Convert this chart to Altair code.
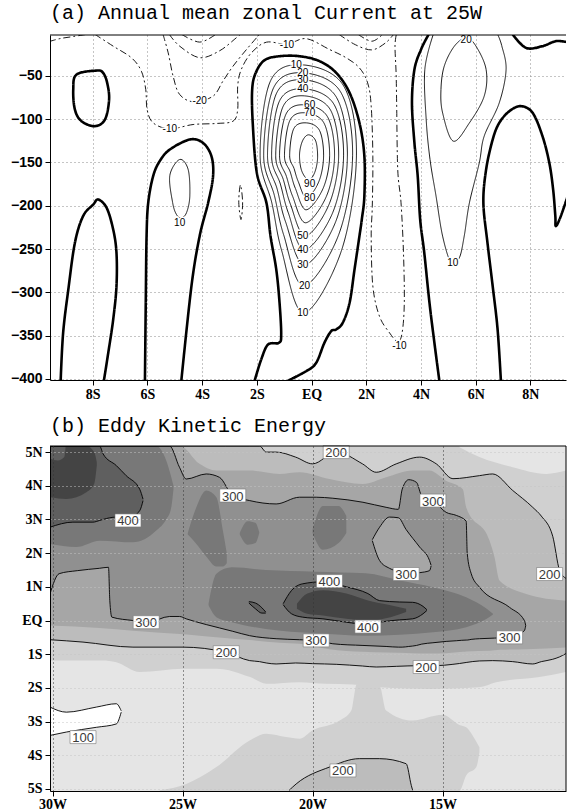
import altair as alt
import pandas as pd

# ============================================================ panel (a)
A_TITLE = "(a) Annual mean zonal Current at 25W"
A_LAT_TICKS = [-8, -6, -4, -2, 0, 2, 4, 6, 8]
A_DEPTH_TICKS = [-50, -100, -150, -200, -250, -300, -350, -400]
A_LAT_DOMAIN = [-9.56, 9.30]
A_DEPTH_DOMAIN = [-401.3, -2.8]

# zero contour (thick)
A_ZERO_LOOP_8S = [(-7.86, -43.9), (-8.59, -48.5), (-8.71, -65.8), (-8.65, -88.9), (-8.41, -102.3),
                  (-7.92, -108.1), (-7.55, -100.4), (-7.40, -77.3), (-7.47, -58.1), (-7.62, -46.5)]
A_ZERO_ARCH_8S = [(-9.17, -402), (-9.08, -346.8), (-8.89, -296.7), (-8.65, -242.8), (-8.35, -212),
                  (-7.98, -198.6), (-7.80, -192.8), (-7.49, -202.4), (-7.25, -227.5), (-7.13, -254.4),
                  (-7.13, -292.8), (-7.25, -331.4), (-7.43, -369.8), (-7.59, -402)]
A_ZERO_ARCH_4S = [(-6.09, -402), (-6.06, -312), (-6.03, -235), (-5.97, -196.6), (-5.79, -165.8),
                  (-5.55, -148.5), (-5.18, -135.1), (-4.45, -123.5), (-3.97, -127.4), (-3.66, -142.7),
                  (-3.60, -165.8), (-3.78, -196.6), (-4.09, -235), (-4.39, -292.8), (-4.76, -402)]
A_ZERO_CORE = [(-2.08, -402), (-1.84, -377.6), (-1.59, -360.3), (-1.19, -358.3), (-1.11, -348.7),
               (-1.17, -312.1), (-1.29, -273.7), (-1.50, -235.1), (-1.65, -196.6), (-2.00, -162),
               (-2.15, -104.3), (-2.17, -65.8), (-2.04, -46.5), (-1.72, -31.9), (-1.17, -27.3),
               (-0.44, -27.3), (0.29, -33), (0.90, -46.5), (1.39, -69.6), (1.75, -104.3),
               (1.93, -142.7), (1.93, -188.9), (1.84, -215), (1.75, -235.1), (1.57, -273.7),
               (1.39, -312.1), (1.14, -335.2), (0.90, -342.9), (0.72, -344.8), (0.47, -358.3),
               (0.17, -381.4), (-0.19, -391), (-0.86, -402)]
A_ZERO_4N = [(4.28, -2), (4.00, -19.6), (3.76, -42.7), (3.67, -81.2), (3.76, -127.4), (3.88, -165.8),
             (3.97, -216), (4.12, -254.4), (4.31, -312.1), (4.49, -358.3), (4.67, -402)]
A_ZERO_ARCH_7N = [(6.92, -402), (6.80, -343), (6.62, -292.8), (6.43, -242.8), (6.28, -196.6),
                  (6.38, -158.2), (6.62, -123.6), (6.86, -104.3), (7.23, -90.8), (7.65, -85),
                  (8.08, -92.7), (8.44, -119.6), (8.69, -150.5), (8.83, -181.3), (8.91, -212),
                  (8.93, -223.6), (9.11, -212), (9.35, -190)]
A_ZERO_TOP_8N = [(7.35, -2), (7.84, -17.7), (8.44, -15.7), (8.93, -9.9), (9.35, -11.1)]

# positive contours (thin)
A_POS10 = [(-0.33, -37.3), (1.17, -61.5), (1.64, -142.4), (1.09, -252.1), (-0.29, -323.7),
           (-1.09, -252.1), (-1.45, -197), (-1.88, -142.4), (-1.50, -55.8)]
A_POS20 = [(-0.31, -46.5), (1.06, -68.5), (1.50, -142.4), (0.99, -233.6), (-0.29, -292.5),
           (-1.02, -233.6), (-1.36, -188), (-1.75, -142.4), (-1.39, -63.9)]
A_POS30 = [(-0.29, -54.6), (0.91, -74.8), (1.31, -142.4), (0.88, -218.6), (-0.26, -268.2),
           (-0.95, -218.6), (-1.26, -180.5), (-1.61, -142.4), (-1.28, -70.1)]
A_POS40 = [(-0.27, -65.0), (0.82, -82.9), (1.17, -142.4), (0.77, -208.2), (-0.26, -250.9),
           (-0.85, -208.2), (-1.14, -175), (-1.46, -142.4), (-1.17, -78.9)]
A_POS50 = [(-0.26, -73.1), (0.69, -89.3), (0.99, -142.4), (0.64, -198.4), (-0.23, -234.8),
           (-0.77, -198.4), (-1.03, -170), (-1.31, -142.4), (-1.04, -85.3)]
A_POS60 = [(-0.24, -83.5), (0.58, -97.1), (0.84, -142.4), (0.54, -189.3), (-0.22, -219.7),
           (-0.69, -189.3), (-0.92, -166), (-1.17, -142.4), (-0.93, -93.9)]
A_POS70 = [(-0.22, -92.7), (0.45, -104.3), (0.66, -142.4), (0.42, -180.1), (-0.20, -204.7),
           (-0.59, -180.1), (-0.78, -161), (-0.99, -142.4), (-0.79, -101.4)]
A_POS80 = [(-0.19, -104.3), (0.29, -113.0), (0.44, -142.4), (0.27, -171.8), (-0.18, -190.9),
           (-0.49, -171.8), (-0.64, -157), (-0.80, -142.4), (-0.65, -111.0)]
A_POS90 = [(-0.11, -118.1), (0.15, -125.1), (0.22, -144.7), (0.11, -162.0), (-0.11, -170.1),
           (-0.36, -159.7), (-0.44, -141.2), (-0.33, -125.1)]
A_POS10_4S = [(-4.82, -146.6), (-4.51, -158.2), (-4.45, -189), (-4.57, -208), (-4.76, -214),
              (-4.94, -210), (-5.08, -196), (-5.18, -165)]
A_POS10_5N = [(4.45, -2), (4.14, -42.7), (4.19, -100.4), (4.33, -146.6), (4.55, -188.9), (4.79, -235.1),
              (5.10, -265.9), (5.40, -260.2), (5.58, -235.1), (5.77, -196.6), (6.13, -150.5),
              (6.31, -119.6), (6.86, -81.2), (7.11, -42.7), (6.95, -15), (6.80, -2)]
A_POS20_5N = [(5.65, -6.1), (6.01, -15.7), (6.38, -42.7), (6.31, -73.4), (5.77, -104.3),
              (5.18, -125.4), (4.79, -92.7), (4.73, -65.8), (4.85, -38.8), (5.22, -15.7)]

# negative contours (dashed)
A_NEG10_CORNER = [(-9.6, -10.5), (-9.2, -7), (-8.7, -4.5), (-8.2, -2)]
A_NEG10_MAIN = [(-7.92, -2), (-7.25, -15.7), (-6.58, -29.2), (-6.22, -44.6), (-6.06, -65.8),
                (-6.01, -88.9), (-5.79, -104.3), (-5.18, -111.2), (-4.33, -106.2), (-3.48, -105),
                (-2.87, -102.3), (-2.70, -88.9), (-2.70, -61.9), (-2.57, -42.7), (-2.20, -23.4),
                (-1.65, -11.1), (-0.90, -13.5), (-0.20, -7), (0.66, -19.6), (1.27, -29.2),
                (1.75, -40.8), (2.05, -58.1), (2.18, -85), (2.24, -142.7), (2.22, -200.5),
                (2.18, -235.1), (2.24, -292.8), (2.48, -327.5), (2.85, -346.8), (3.15, -357),
                (3.31, -346.8), (3.39, -312.1), (3.36, -254.4), (3.27, -196.6), (3.15, -158.2),
                (3.11, -81.2), (3.09, -46.5), (3.05, -15.7), (3.10, -2)]
A_NEG20_LEFT = [(-5.43, -2), (-5.24, -23.4), (-5.06, -50.4), (-4.82, -71.6), (-4.30, -80),
                (-3.60, -73.4), (-3.24, -56.1), (-2.87, -38.8), (-2.38, -19.6), (-1.90, -2)]
A_NEG30_LEFT = [(-5.2, -2), (-4.82, -15.7), (-4.09, -29), (-3.36, -21), (-2.75, -6), (-2.6, -2)]
A_NEG40_LEFT = [(-4.75, -2), (-4.09, -11), (-3.5, -2)]
A_NEG20_RIGHT = [(1.0, -2), (1.6, -14), (2.2, -20), (2.7, -12), (3.0, -2)]
A_NEG30_RIGHT = [(1.7, -2), (2.2, -10), (2.6, -2)]
A_NEG10_SMALL = [(-2.60, -176), (-2.52, -196), (-2.58, -216), (-2.66, -196)]

A_LINES = [
    ("z_loop8s", "zero", True, A_ZERO_LOOP_8S),
    ("z_arch8s", "zero", False, A_ZERO_ARCH_8S),
    ("z_arch4s", "zero", False, A_ZERO_ARCH_4S),
    ("z_core", "zero", False, A_ZERO_CORE),
    ("z_4n", "zero", False, A_ZERO_4N),
    ("z_arch7n", "zero", False, A_ZERO_ARCH_7N),
    ("z_top8n", "zero", False, A_ZERO_TOP_8N),
    ("p10", "pos", True, A_POS10), ("p20", "pos", True, A_POS20), ("p30", "pos", True, A_POS30),
    ("p40", "pos", True, A_POS40), ("p50", "pos", True, A_POS50), ("p60", "pos", True, A_POS60),
    ("p70", "pos", True, A_POS70), ("p80", "pos", True, A_POS80), ("p90", "pos", True, A_POS90),
    ("p10_4s", "pos", True, A_POS10_4S),
    ("p10_5n", "pos", False, A_POS10_5N),
    ("p20_5n", "pos", True, A_POS20_5N),
    ("n10_corner", "neg", False, A_NEG10_CORNER),
    ("n10_main", "neg", False, A_NEG10_MAIN),
    ("n20_left", "neg", False, A_NEG20_LEFT),
    ("n30_left", "neg", False, A_NEG30_LEFT),
    ("n40_left", "neg", False, A_NEG40_LEFT),
    ("n20_right", "neg", False, A_NEG20_RIGHT),
    ("n30_right", "neg", False, A_NEG30_RIGHT),
    ("n10_small", "neg", True, A_NEG10_SMALL),
]

A_LABELS = [("-10", -5.18, -111.2), ("-20", -4.09, -79.2), ("-10", -0.90, -14.0), ("10", -4.82, -219.7),
            ("20", 5.65, -8.0), ("10", 5.16, -266.0), ("-10", 3.21, -362.0),
            ("10", -0.56, -37.6), ("20", -0.32, -46.5), ("30", -0.32, -55.0), ("40", -0.32, -64.7),
            ("60", -0.07, -83.1), ("70", -0.07, -92.7), ("90", -0.07, -174.7), ("80", -0.07, -190.9),
            ("50", -0.32, -235.1), ("40", -0.32, -250.6), ("30", -0.32, -267.9), ("20", -0.26, -292.8),
            ("10", -0.32, -323.7)]

# ============================================================ panel (b)
B_TITLE = "(b) Eddy Kinetic Energy"
B_LON_TICKS = [-30, -25, -20, -15]
B_LAT_TICKS = [-5, -4, -3, -2, -1, 0, 1, 2, 3, 4, 5]
B_LON_DOMAIN = [-30.1, -10.25]
B_LAT_DOMAIN = [-5.06, 5.18]
B_LEVELS = ["lt100", "100", "150", "200", "250", "300", "350", "400", "450"]
B_GREYS = ["#ffffff", "#e5e5e5", "#d0d0d0", "#bcbcbc", "#a6a6a6", "#909090", "#787878", "#5f5f5f", "#444444"]

# (lon, lower lat, upper lat) of each shaded region
B_BASE = [(-30.1, -5.06, 5.18), (-10.25, -5.06, 5.18)]
B_WHITE = [(-30.1, -3.41, -2.57), (-29.47, -3.31, -2.72), (-28.32, -3.17, -2.57), (-27.55, -3.07, -2.47),
           (-27.36, -2.72, -2.68)]
B_150_NORTH = [(-30.1, -1.19, 5.18), (-28.1, -1.19, 5.18), (-27.55, -1.24, 5.18), (-26.65, -1.53, 5.18),
               (-24.98, -1.43, 5.18), (-23.7, -1.43, 5.18), (-22.4, -1.68, 5.18), (-21.77, -1.88, 5.18),
               (-20.5, -1.83, 5.18), (-19.5, -1.88, 5.18), (-18.45, -1.9, 5.18), (-17.42, -1.98, 5.18),
               (-15.5, -2.03, 5.18), (-13.6, -1.98, 5.18), (-12.94, -1.83, 5.18), (-11.27, -1.68, 5.18),
               (-10.25, -1.53, 5.18)]
B_150_SOUTH = [(-25.88, -5.06, -5.04), (-24.86, -5.06, -4.85), (-23.7, -5.06, -4.35), (-22.42, -5.06, -3.56),
               (-21.78, -5.06, -3.36), (-21.01, -5.06, -3.46), (-20.5, -5.06, -3.51), (-19.99, -5.06, -3.26),
               (-18.96, -5.06, -2.97), (-18.51, -5.06, -2.67), (-18.3, -5.06, -1.9), (-17.42, -5.06, -1.95),
               (-17.17, -5.06, -2.67), (-16.15, -5.06, -2.97), (-15.0, -5.06, -2.8), (-14.35, -5.06, -3.1),
               (-14.09, -4.6, -3.17), (-13.7, -4.35, -3.6), (-13.58, -3.9, -3.76)]
B_NE_LOW = [(-14.35, 5.14, 5.18), (-13.58, 4.85, 5.18), (-12.3, 4.55, 5.18), (-11.01, 4.35, 5.18),
            (-10.25, 4.45, 5.18)]
B_200_MAIN = [(-30.1, -0.57, 5.18), (-28.83, -0.64, 5.18), (-26.91, -0.79, 5.18), (-24.98, -0.79, 5.18),
              (-23.35, -0.94, 5.18), (-22.42, -1.19, 5.18), (-22.04, -1.22, 5.18), (-21.78, -1.26, 5.0),
              (-21.4, -1.29, 5.0), (-20.65, -1.26, 4.85), (-20.0, -1.28, 4.65), (-19.09, -1.3, 5.0),
              (-18.08, -1.35, 4.65), (-17.55, -1.38, 4.40), (-16.78, -1.36, 4.65), (-15.88, -1.34, 4.85),
              (-15.24, -1.34, 4.65), (-14.6, -1.3, 4.21), (-13.58, -1.2, 4.30), (-13.07, -1.19, 4.35),
              (-12.3, -1.22, 3.86), (-11.53, -1.29, 3.36), (-11.2, -1.22, 3.1), (-10.76, -1.15, 2.5),
              (-10.5, -1.08, 1.5), (-10.25, -0.98, 1.25)]
B_200_SOUTH = [(-20.9, -5.06, -5.04), (-20.63, -5.06, -4.85), (-19.35, -5.06, -4.35), (-18.2, -5.06, -4.1),
               (-17.42, -5.06, -4.1), (-16.4, -5.06, -4.25), (-16.2, -5.06, -4.9), (-16.15, -5.06, -5.04)]
B_250_MAIN = [(-30.1, -0.15, 5.18), (-28.2, -0.22, 5.18), (-26.91, -0.3, 5.18), (-25.1, -0.4, 5.18),
              (-24.35, -0.45, 4.65), (-23.7, -0.5, 4.45), (-22.42, -0.58, 4.45), (-21.27, -0.66, 4.35),
              (-20.5, -0.69, 4.4), (-19.35, -0.85, 4.2), (-18.07, -0.93, 4.05), (-17.17, -0.95, 4.25),
              (-16.15, -0.97, 4.45), (-15.5, -0.98, 4.45), (-14.87, -0.97, 4.15), (-14.22, -0.93, 3.9),
              (-14.09, -0.92, 3.36), (-13.19, -0.9, 2.37), (-13.0, -0.88, 1.88), (-12.81, -0.87, 1.19),
              (-11.78, -0.85, 0.79), (-10.25, -0.8, 0.59)]
B_300_MAIN = [(-30.1, 0.79, 5.18), (-29.75, 1.39, 5.18), (-29.05, 1.48, 5.18), (-28.2, 1.55, 5.18),
              (-27.85, 1.58, 5.18), (-27.8, 0.6, 5.18), (-27.72, 0.1, 5.18), (-26.9, 0.0, 5.18),
              (-26.33, -0.05, 5.18), (-25.5, 0.12, 5.18), (-25.12, 0.12, 4.55), (-24.86, 0.05, 4.2),
              (-24.09, -0.12, 4.35), (-23.58, -0.22, 4.25), (-23.07, -0.32, 3.71), (-22.42, -0.45, 3.56),
              (-21.4, -0.54, 3.46), (-20.5, -0.57, 3.66), (-19.86, -0.6, 3.66), (-19.22, -0.69, 3.63),
              (-18.06, -0.74, 3.51), (-17.17, -0.77, 3.36), (-16.7, -0.79, 3.3), (-16.55, -0.79, 3.9),
              (-16.3, -0.77, 4.18), (-16.0, -0.74, 4.1), (-15.8, -0.7, 3.7), (-15.37, -0.66, 3.56),
              (-14.86, -0.62, 3.21), (-14.47, -0.6, 3.12), (-14.09, -0.58, 2.95), (-14.05, -0.58, 2.0),
              (-13.9, -0.56, 1.4), (-13.58, -0.54, 0.99), (-12.42, -0.5, 0.39), (-11.85, -0.3, 0.0),
              (-11.8, -0.15, -0.15)]
B_300_HOLE = [(-17.7, 2.37, 2.4), (-17.42, 1.78, 2.77), (-17.04, 1.55, 3.07), (-16.7, 1.45, 3.05),
              (-16.4, 1.38, 2.7), (-15.88, 1.42, 2.18), (-15.5, 1.48, 1.78), (-15.44, 1.62, 1.64)]
B_350_EQ = [(-24.0, 0.45, 0.5), (-23.7, 0.1, 1.39), (-23.1, -0.05, 1.58), (-21.8, -0.25, 1.5),
            (-19.87, -0.38, 1.45), (-17.95, -0.45, 1.4), (-16.65, -0.42, 1.19), (-15.37, -0.35, 0.99),
            (-14.09, -0.2, 0.69), (-13.3, 0.05, 0.35), (-13.06, 0.18, 0.2)]
B_350_NW = [(-30.1, 2.27, 5.18), (-29.09, 2.18, 5.18), (-28.19, 2.37, 5.18), (-26.91, 2.32, 5.18),
            (-26.01, 2.67, 5.18), (-25.63, 3.0, 4.75), (-25.45, 3.3, 4.3), (-25.35, 3.9, 4.0)]
B_350_TONGUE = [(-24.8, 2.55, 2.6), (-24.5, 2.3, 3.3), (-24.09, 1.9, 3.86), (-23.7, 1.6, 3.66),
                (-23.45, 1.6, 2.67), (-23.3, 1.7, 2.0)]
B_350_BLOB = [(-22.8, 2.55, 2.6), (-22.5, 2.25, 2.95), (-22.2, 2.3, 2.9), (-22.05, 2.6, 2.62)]
B_350_N2 = [(-20.0, 2.6, 2.7), (-19.6, 2.1, 3.4), (-19.0, 2.3, 3.4), (-18.7, 2.6, 3.1)]
B_400_NW = [(-30.1, 2.77, 5.18), (-29.22, 2.92, 5.18), (-28.45, 2.92, 5.18), (-28.19, 2.97, 5.18),
            (-28.06, 3.0, 4.95), (-27.55, 3.07, 4.6), (-27.17, 3.0, 4.3), (-26.65, 3.26, 3.9),
            (-26.52, 3.56, 3.6)]
B_400_EQ = [(-21.13, 0.47, 0.5), (-20.81, 0.2, 0.89), (-20.38, 0.1, 1.09), (-19.6, 0.05, 1.15),
            (-18.7, -0.05, 1.0), (-17.87, -0.12, 0.8), (-17.42, -0.05, 0.59), (-16.65, 0.02, 0.55),
            (-16.15, 0.05, 0.54), (-15.75, 0.2, 0.42), (-15.6, 0.3, 0.32)]
B_400_SMALL = [(-22.45, 0.52, 0.56), (-22.2, 0.35, 0.52), (-21.95, 0.22, 0.38), (-21.8, 0.22, 0.25)]
B_450_NW = [(-30.1, 3.66, 5.18), (-29.47, 3.61, 5.18), (-28.7, 3.81, 5.18), (-28.4, 4.06, 5.0),
            (-28.3, 4.6, 4.7)]
B_400_NOTCH = [(-30.1, 4.8, 5.18), (-29.8, 4.75, 5.18), (-29.55, 4.85, 5.18), (-29.5, 5.15, 5.18)]
B_450_EQ = [(-20.6, 0.35, 0.5), (-20.2, 0.2, 0.8), (-19.6, 0.15, 0.9), (-18.7, 0.05, 0.8),
            (-17.9, 0.0, 0.6), (-17.0, 0.1, 0.45), (-16.4, 0.25, 0.35)]

# painting order: (name, level, contour edges drawn, region)
B_PIECES = [
    ("base", "100", "none", B_BASE),
    ("white", "lt100", "both", B_WHITE),
    ("n150", "150", "none", B_150_NORTH),
    ("s150", "150", "none", B_150_SOUTH),
    ("nelow", "100", "none", B_NE_LOW),
    ("m200", "200", "both", B_200_MAIN),
    ("s200", "200", "hi", B_200_SOUTH),
    ("m250", "250", "none", B_250_MAIN),
    ("m300", "300", "both", B_300_MAIN),
    ("h300", "250", "both", B_300_HOLE),
    ("eq350", "350", "none", B_350_EQ),
    ("nw350", "350", "none", B_350_NW),
    ("tg350", "350", "none", B_350_TONGUE),
    ("bl350", "350", "none", B_350_BLOB),
    ("n2350", "350", "none", B_350_N2),
    ("nw400", "400", "both", B_400_NW),
    ("eq400", "400", "both", B_400_EQ),
    ("sm400", "400", "both", B_400_SMALL),
    ("nw450", "450", "none", B_450_NW),
    ("notch", "400", "none", B_400_NOTCH),
    ("eq450", "450", "none", B_450_EQ),
]

B_LABELS = [("200", -19.09, 5.0), ("300", -23.07, 3.71), ("300", -15.37, 3.56), ("400", -27.1, 2.97),
            ("300", -16.4, 1.38), ("200", -10.88, 1.38), ("400", -19.35, 1.17), ("300", -26.4, -0.05),
            ("400", -17.87, -0.18), ("300", -19.86, -0.59), ("300", -12.42, -0.5), ("200", -23.32, -0.94),
            ("200", -15.63, -1.38), ("100", -28.83, -3.46), ("200", -18.83, -4.45)]

# ============================================================ build tables
W, H = 516, 345

a_rows = []
for name, kind, closed, pts in A_LINES:
    for i, (lat, dep) in enumerate(pts):
        a_rows.append({"id": name, "kind": kind, "closed": closed, "seq": i, "lat": lat, "depth": dep})
df_a = pd.DataFrame(a_rows)
df_a_lab = pd.DataFrame([{"t": t, "lat": la, "depth": d} for t, la, d in A_LABELS])

b_rows, bl_rows = [], []
for name, level, edge, pts in B_PIECES:
    for i, (lon, lo, hi) in enumerate(pts):
        b_rows.append({"piece": name, "level": level, "seq": i, "lon": lon, "lo": lo, "hi": hi})
        if edge in ("lo", "both"):
            bl_rows.append({"lid": name + "_lo", "seq": i, "lon": lon, "lat": lo})
        if edge in ("hi", "both"):
            bl_rows.append({"lid": name + "_hi", "seq": i, "lon": lon, "lat": hi})
df_b = pd.DataFrame(b_rows)
df_bl = pd.DataFrame(bl_rows)
df_b_lab = pd.DataFrame([{"t": t, "lon": lo, "lat": la} for t, lo, la in B_LABELS])

LATLAB = "datum.value == 0 ? 'EQ' : (datum.value > 0 ? datum.value + 'N' : (-datum.value) + 'S')"

# ============================================================ panel (a) chart
ax_a_x = alt.Axis(values=A_LAT_TICKS, labelExpr=LATLAB, title=None, grid=True, gridColor="#8a8a8a",
                  gridDash=[1, 3], gridWidth=1, tickSize=5, tickColor="black", domainColor="black",
                  labelFont="Liberation Serif", labelFontWeight="bold", labelFontSize=14,
                  labelPadding=2, labelColor="black")
ax_a_y = alt.Axis(values=A_DEPTH_TICKS, title=None, grid=True, gridColor="#8a8a8a", gridDash=[1, 3],
                  gridWidth=1, tickSize=5, tickColor="black", domainColor="black",
                  labelFont="Liberation Sans", labelFontWeight="bold", labelFontSize=14,
                  labelPadding=3, labelColor="black", minExtent=45, maxExtent=45)
xa = alt.X("lat:Q", scale=alt.Scale(domain=A_LAT_DOMAIN, nice=False, zero=False), axis=ax_a_x)
ya = alt.Y("depth:Q", scale=alt.Scale(domain=A_DEPTH_DOMAIN, nice=False, zero=False), axis=ax_a_y)

LINE_STYLES = {"zero": (2.6, [1, 0]), "pos": (0.9, [1, 0]), "neg": (0.9, [7, 3, 2, 3])}

base_a = alt.Chart(df_a)
a_layers = []
for kind, (wdt, dash) in LINE_STYLES.items():
    for closed, interp in ((False, "cardinal"), (True, "cardinal-closed")):
        cond = "datum.kind == '%s' && %sdatum.closed" % (kind, "" if closed else "!")
        a_layers.append(base_a.transform_filter(cond).mark_line(
            interpolate=interp, color="black", clip=True, strokeWidth=wdt, strokeDash=dash).encode(
            x=xa, y=ya, detail="id:N", order="seq:Q"))

lab_halo = alt.Chart(df_a_lab).mark_text(font="Liberation Sans", fontSize=10, stroke="white",
                                         strokeWidth=3, fill="white").encode(x=xa, y=ya, text="t:N")
lab_text = alt.Chart(df_a_lab).mark_text(font="Liberation Sans", fontSize=10, color="black").encode(
    x=xa, y=ya, text="t:N")
top_a = alt.Chart(pd.DataFrame({"k": [0]})).mark_rule(color="black", strokeWidth=1).encode(
    x=alt.value(0), x2=alt.value(W), y=alt.value(0))

chart_a = alt.layer(*a_layers, lab_halo, lab_text, top_a).properties(
    width=W, height=H,
    title=alt.TitleParams(A_TITLE, anchor="start", frame="group", font="Liberation Mono", fontSize=20,
                          fontWeight="normal", color="black", offset=-4, baseline="alphabetic"))

# ============================================================ panel (b) chart
ax_b_x = alt.Axis(values=B_LON_TICKS, labelExpr="(-datum.value) + 'W'", title=None, grid=True,
                  gridColor="#333333", gridDash=[1, 3], gridWidth=1, tickSize=5, tickColor="black",
                  domainColor="black", labelFont="Liberation Serif", labelFontWeight="bold",
                  labelFontSize=14, labelPadding=1, labelColor="black", zindex=1)
ax_b_y = alt.Axis(values=B_LAT_TICKS, labelExpr=LATLAB, title=None, grid=True, gridColor="#c4c4c4",
                  gridDash=[1, 3], gridWidth=1, tickSize=5, tickColor="black", domainColor="black",
                  labelFont="Liberation Serif", labelFontWeight="bold", labelFontSize=14,
                  labelPadding=3, labelColor="black", minExtent=45, maxExtent=45, zindex=1)
bx = alt.X("lon:Q", scale=alt.Scale(domain=B_LON_DOMAIN, nice=False, zero=False), axis=ax_b_x)
by_lo = alt.Y("lo:Q", scale=alt.Scale(domain=B_LAT_DOMAIN, nice=False, zero=False), axis=ax_b_y)
by = alt.Y("lat:Q", scale=alt.Scale(domain=B_LAT_DOMAIN, nice=False, zero=False), axis=ax_b_y)
shade = alt.Color("level:N", scale=alt.Scale(domain=B_LEVELS, range=B_GREYS), legend=None)

b_layers = []
for name, level, edge, pts in B_PIECES:
    b_layers.append(
        alt.Chart(df_b).transform_filter(alt.datum.piece == name).mark_area(
            interpolate="monotone", clip=True, opacity=1).encode(x=bx, y=by_lo, y2="hi:Q", color=shade))

b_lines = alt.Chart(df_bl).mark_line(interpolate="monotone", color="black", strokeWidth=0.9, clip=True).encode(
    x=bx, y=by, detail="lid:N", order="seq:Q")
BOX = "M-1,-0.5L1,-0.5L1,0.5L-1,0.5Z"
b_box = alt.Chart(df_b_lab).mark_point(shape=BOX, size=676, filled=True, fill="white", stroke="#777777",
                                       strokeWidth=0.6, opacity=1).encode(x=bx, y=by)
b_txt = alt.Chart(df_b_lab).mark_text(font="Liberation Sans", fontSize=13, color="#3a3a3a", dy=1).encode(
    x=bx, y=by, text="t:N")
top_b = alt.Chart(pd.DataFrame({"k": [0]})).mark_rule(color="black", strokeWidth=1).encode(
    x=alt.value(0), x2=alt.value(W), y=alt.value(0))
right_b = alt.Chart(pd.DataFrame({"k": [0]})).mark_rule(color="black", strokeWidth=1).encode(
    x=alt.value(W), y=alt.value(0), y2=alt.value(H))

chart_b = alt.layer(*b_layers, b_lines, b_box, b_txt, top_b, right_b).properties(
    width=W, height=H,
    title=alt.TitleParams(B_TITLE, anchor="start", frame="group", font="Liberation Mono", fontSize=20,
                          fontWeight="normal", color="black", offset=-8, baseline="alphabetic"))

chart = alt.vconcat(chart_a, chart_b, spacing=15).properties(
    padding={"left": 5, "top": 2, "right": 0, "bottom": 0}, background="white"
).configure_view(stroke=None)

chart.save("out.html", embed_options={"renderer": "svg", "actions": False})
